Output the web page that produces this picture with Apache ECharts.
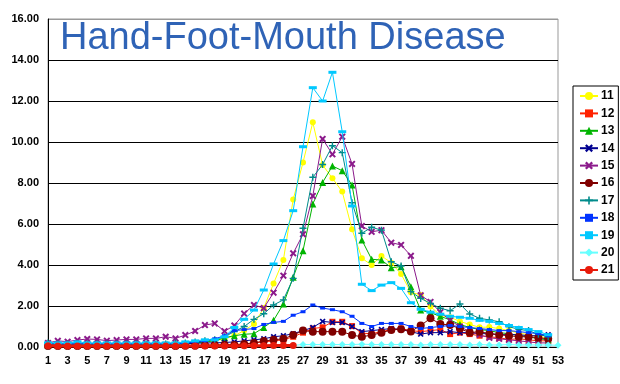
<!DOCTYPE html>
<html>
<head>
<meta charset="utf-8">
<script src="https://cdn.jsdelivr.net/npm/echarts@6/dist/echarts.min.js"></script>
<style>html,body{margin:0;padding:0;background:#fff;}#c{width:620px;height:384px;}</style>
</head>
<body>
<div id="c"></div>
<script>
const weeks = Array.from({length: 53}, (_, i) => String(i + 1));
const titleText = "Hand-Foot-Mouth Disease";
const yTicks = [0, 2, 4, 6, 8, 10, 12, 14, 16];

const s11 = [0.15,0.12,0.12,0.1,0.12,0.12,0.1,0.1,0.12,0.12,0.1,0.12,0.12,0.15,0.15,0.2,0.25,0.3,0.4,0.55,0.8,1.12,1.9,3.1,4.25,7.2,9.0,10.96,8.88,8.23,7.58,5.74,4.33,4.0,4.44,4.11,3.56,2.67,2.54,1.97,1.55,1.45,1.25,1.1,0.96,0.97,0.9,0.8,0.68,0.6,0.5,0.45];
const s12 = [0.08,0.05,0.05,0.06,0.05,0.05,0.05,0.06,0.05,0.05,0.06,0.05,0.05,0.06,0.08,0.08,0.1,0.1,0.12,0.12,0.15,0.2,0.25,0.3,0.35,0.5,0.7,0.9,0.96,1.23,1.23,1.02,0.67,0.65,0.75,0.85,0.9,0.8,0.75,0.8,0.85,0.63,0.7,0.63,0.55,0.5,0.45,0.37,0.4,0.35,0.3,0.3];
const s13 = [0.1,0.1,0.1,0.1,0.1,0.12,0.1,0.1,0.12,0.1,0.12,0.12,0.12,0.15,0.15,0.2,0.25,0.3,0.45,0.55,0.62,0.65,0.95,1.3,2.1,3.4,4.7,6.98,8.03,8.83,8.6,7.9,5.22,4.28,4.24,3.87,3.92,2.94,1.8,1.67,1.5,1.32,1.1,0.95,0.85,0.8,0.7,0.65,0.55,0.5,0.4,0.35];
const s14 = [0.15,0.15,0.12,0.15,0.15,0.12,0.12,0.15,0.15,0.12,0.15,0.15,0.12,0.15,0.15,0.18,0.2,0.2,0.22,0.25,0.3,0.35,0.4,0.5,0.55,0.65,0.8,0.95,1.25,1.2,1.2,1.0,0.75,0.8,0.85,0.9,0.85,0.75,0.63,0.7,0.7,0.75,0.7,0.7,0.65,0.65,0.6,0.6,0.6,0.55,0.55,0.6];
const s15 = [0.2,0.3,0.26,0.34,0.39,0.37,0.31,0.34,0.37,0.37,0.42,0.42,0.5,0.42,0.58,0.78,1.07,1.15,0.77,1.05,1.63,2.05,1.9,2.65,3.48,4.57,5.5,7.37,10.15,9.4,10.26,8.93,5.9,5.62,5.7,5.09,4.98,4.45,2.52,2.2,1.7,1.3,1.0,0.75,0.6,0.45,0.4,0.35,0.3,0.25,0.2,0.2];
const s16 = [0.05,0.05,0.05,0.05,0.05,0.05,0.05,0.05,0.05,0.05,0.05,0.05,0.05,0.05,0.06,0.06,0.08,0.08,0.1,0.1,0.15,0.2,0.29,0.35,0.4,0.58,0.8,0.75,0.75,0.75,0.75,0.58,0.5,0.58,0.7,0.83,0.87,0.76,1.05,1.4,1.12,1.07,0.9,0.7,0.75,0.65,0.6,0.55,0.5,0.5,0.45,0.4];
const s17 = [0.2,0.15,0.15,0.15,0.15,0.15,0.15,0.15,0.15,0.15,0.15,0.15,0.15,0.2,0.2,0.25,0.3,0.35,0.5,0.75,1.0,1.35,1.62,2.05,2.3,3.35,5.79,8.28,8.9,9.82,9.48,7.04,5.55,5.84,5.7,4.16,3.95,2.7,2.37,2.13,1.89,1.77,2.1,1.61,1.4,1.32,1.23,0.99,0.86,0.8,0.62,0.5];
const s18 = [0.15,0.15,0.15,0.15,0.15,0.15,0.15,0.15,0.15,0.15,0.15,0.15,0.15,0.15,0.2,0.25,0.3,0.4,0.55,0.8,0.85,0.9,1.1,1.2,1.25,1.55,1.72,2.05,1.9,1.82,1.72,1.5,1.15,1.0,1.15,1.15,1.15,1.0,0.9,0.95,1.0,1.05,1.0,0.95,0.9,0.85,0.8,0.8,0.75,0.7,0.65,0.55];
const s19 = [0.2,0.2,0.2,0.25,0.2,0.2,0.2,0.2,0.2,0.2,0.2,0.2,0.2,0.2,0.25,0.3,0.35,0.35,0.5,0.95,1.35,1.8,2.78,4.05,5.19,6.65,9.77,12.65,12.0,13.4,10.5,6.88,3.06,2.75,3.02,3.14,2.86,2.16,1.84,1.7,1.6,1.5,1.45,1.4,1.3,1.25,1.15,1.05,0.95,0.85,0.75,0.6];
const s20 = [0.05,0.05,0.05,0.05,0.05,0.05,0.05,0.05,0.05,0.05,0.05,0.05,0.05,0.05,0.05,0.05,0.05,0.05,0.05,0.05,0.05,0.05,0.05,0.05,0.05,0.08,0.12,0.12,0.12,0.12,0.12,0.12,0.14,0.12,0.12,0.12,0.12,0.12,0.1,0.12,0.12,0.12,0.12,0.1,0.12,0.1,0.1,0.12,0.1,0.1,0.1,0.1,0.08];
const s21 = [0.06,0.05,0.05,0.05,0.05,0.05,0.05,0.05,0.05,0.05,0.05,0.05,0.05,0.05,0.05,0.05,0.05,0.05,0.05,0.05,0.06,0.06,0.06,0.07,0.07,0.07];

const names = ["11","12","13","14","15","16","17","18","19","20","21"];
const values = [s11,s12,s13,s14,s15,s16,s17,s18,s19,s20,s21];

const X = 'path://M0,2L2,0L5,3L8,0L10,2L7,5L10,8L8,10L5,7L2,10L0,8L3,5Z';
const PLUS = 'path://M4,0H6V4H10V6H6V10H4V6H0V4H4Z';
const styles = [
  {color:'#FFFF00', symbol:'circle', size:6, width:1},
  {color:'#FF2200', symbol:'rect', size:6, width:1},
  {color:'#00B400', symbol:'triangle', size:7, width:1},
  {color:'#000090', symbol:X, size:6, width:1},
  {color:'#8B1A8B', symbol:X, size:7, width:1},
  {color:'#800000', symbol:'circle', size:8, width:1},
  {color:'#008B8B', symbol:PLUS, size:7, width:1},
  {color:'#0033FF', symbol:'rect', size:[5,3], width:1},
  {color:'#00C8FF', symbol:'rect', size:[8,3], width:1},
  {color:'#66FFFF', symbol:'diamond', size:7, width:1},
  {color:'#E81A0A', symbol:'circle', size:7, width:3}
];

const series = names.map((n, i) => ({
  name: n,
  type: 'line',
  data: values[i],
  symbol: styles[i].symbol,
  symbolSize: styles[i].size,
  showAllSymbol: true,
  lineStyle: {color: styles[i].color, width: styles[i].width},
  itemStyle: {color: styles[i].color},
  emphasis: {disabled: true},
  z: 3 + i
}));

const chart = echarts.init(document.getElementById('c'), null, {renderer: 'canvas'});
chart.setOption({
  animation: false,
  backgroundColor: '#fff',
  title: {
    text: titleText,
    left: 55, top: 15,
    textStyle: {color: '#2F63B6', fontFamily: 'Liberation Sans', fontSize: 38, fontWeight: 'normal'}
  },
  grid: {left: 48, right: 62, top: 19, bottom: 37, show: true, borderColor: '#999', borderWidth: 1, backgroundColor: 'transparent'},
  legend: {
    orient: 'vertical', left: 573, top: 86,
    padding: [4, 4, 4, 6],
    itemGap: 5.4, itemWidth: 18, itemHeight: 10,
    borderColor: '#000', borderWidth: 1, backgroundColor: '#fff',
    textStyle: {fontFamily: 'Liberation Sans', fontWeight: 'bold', fontSize: 12, color: '#000', lineHeight: 12, padding: [0,0,0,-2]},
    data: names
  },
  xAxis: {
    type: 'category', data: weeks, boundaryGap: false,
    axisLine: {lineStyle: {color: '#000', width: 1}},
    axisTick: {show: false},
    axisLabel: {interval: 1, color: '#000', fontFamily: 'Liberation Sans', fontWeight: 'bold', fontSize: 11, margin: 8},
    splitLine: {show: false}
  },
  yAxis: {
    type: 'value', min: yTicks[0], max: yTicks[yTicks.length - 1], interval: 2,
    axisLine: {show: true, lineStyle: {color: '#000', width: 1}},
    axisTick: {show: false},
    axisLabel: {color: '#000', fontFamily: 'Liberation Sans', fontWeight: 'bold', fontSize: 11, margin: 9, formatter: v => v.toFixed(2)},
    splitLine: {show: true, lineStyle: {color: ['#000','#000','#000','#000','#000','#000','#000','#000','#999'], width: 1}}
  },
  series: series
});
</script>
</body>
</html>
